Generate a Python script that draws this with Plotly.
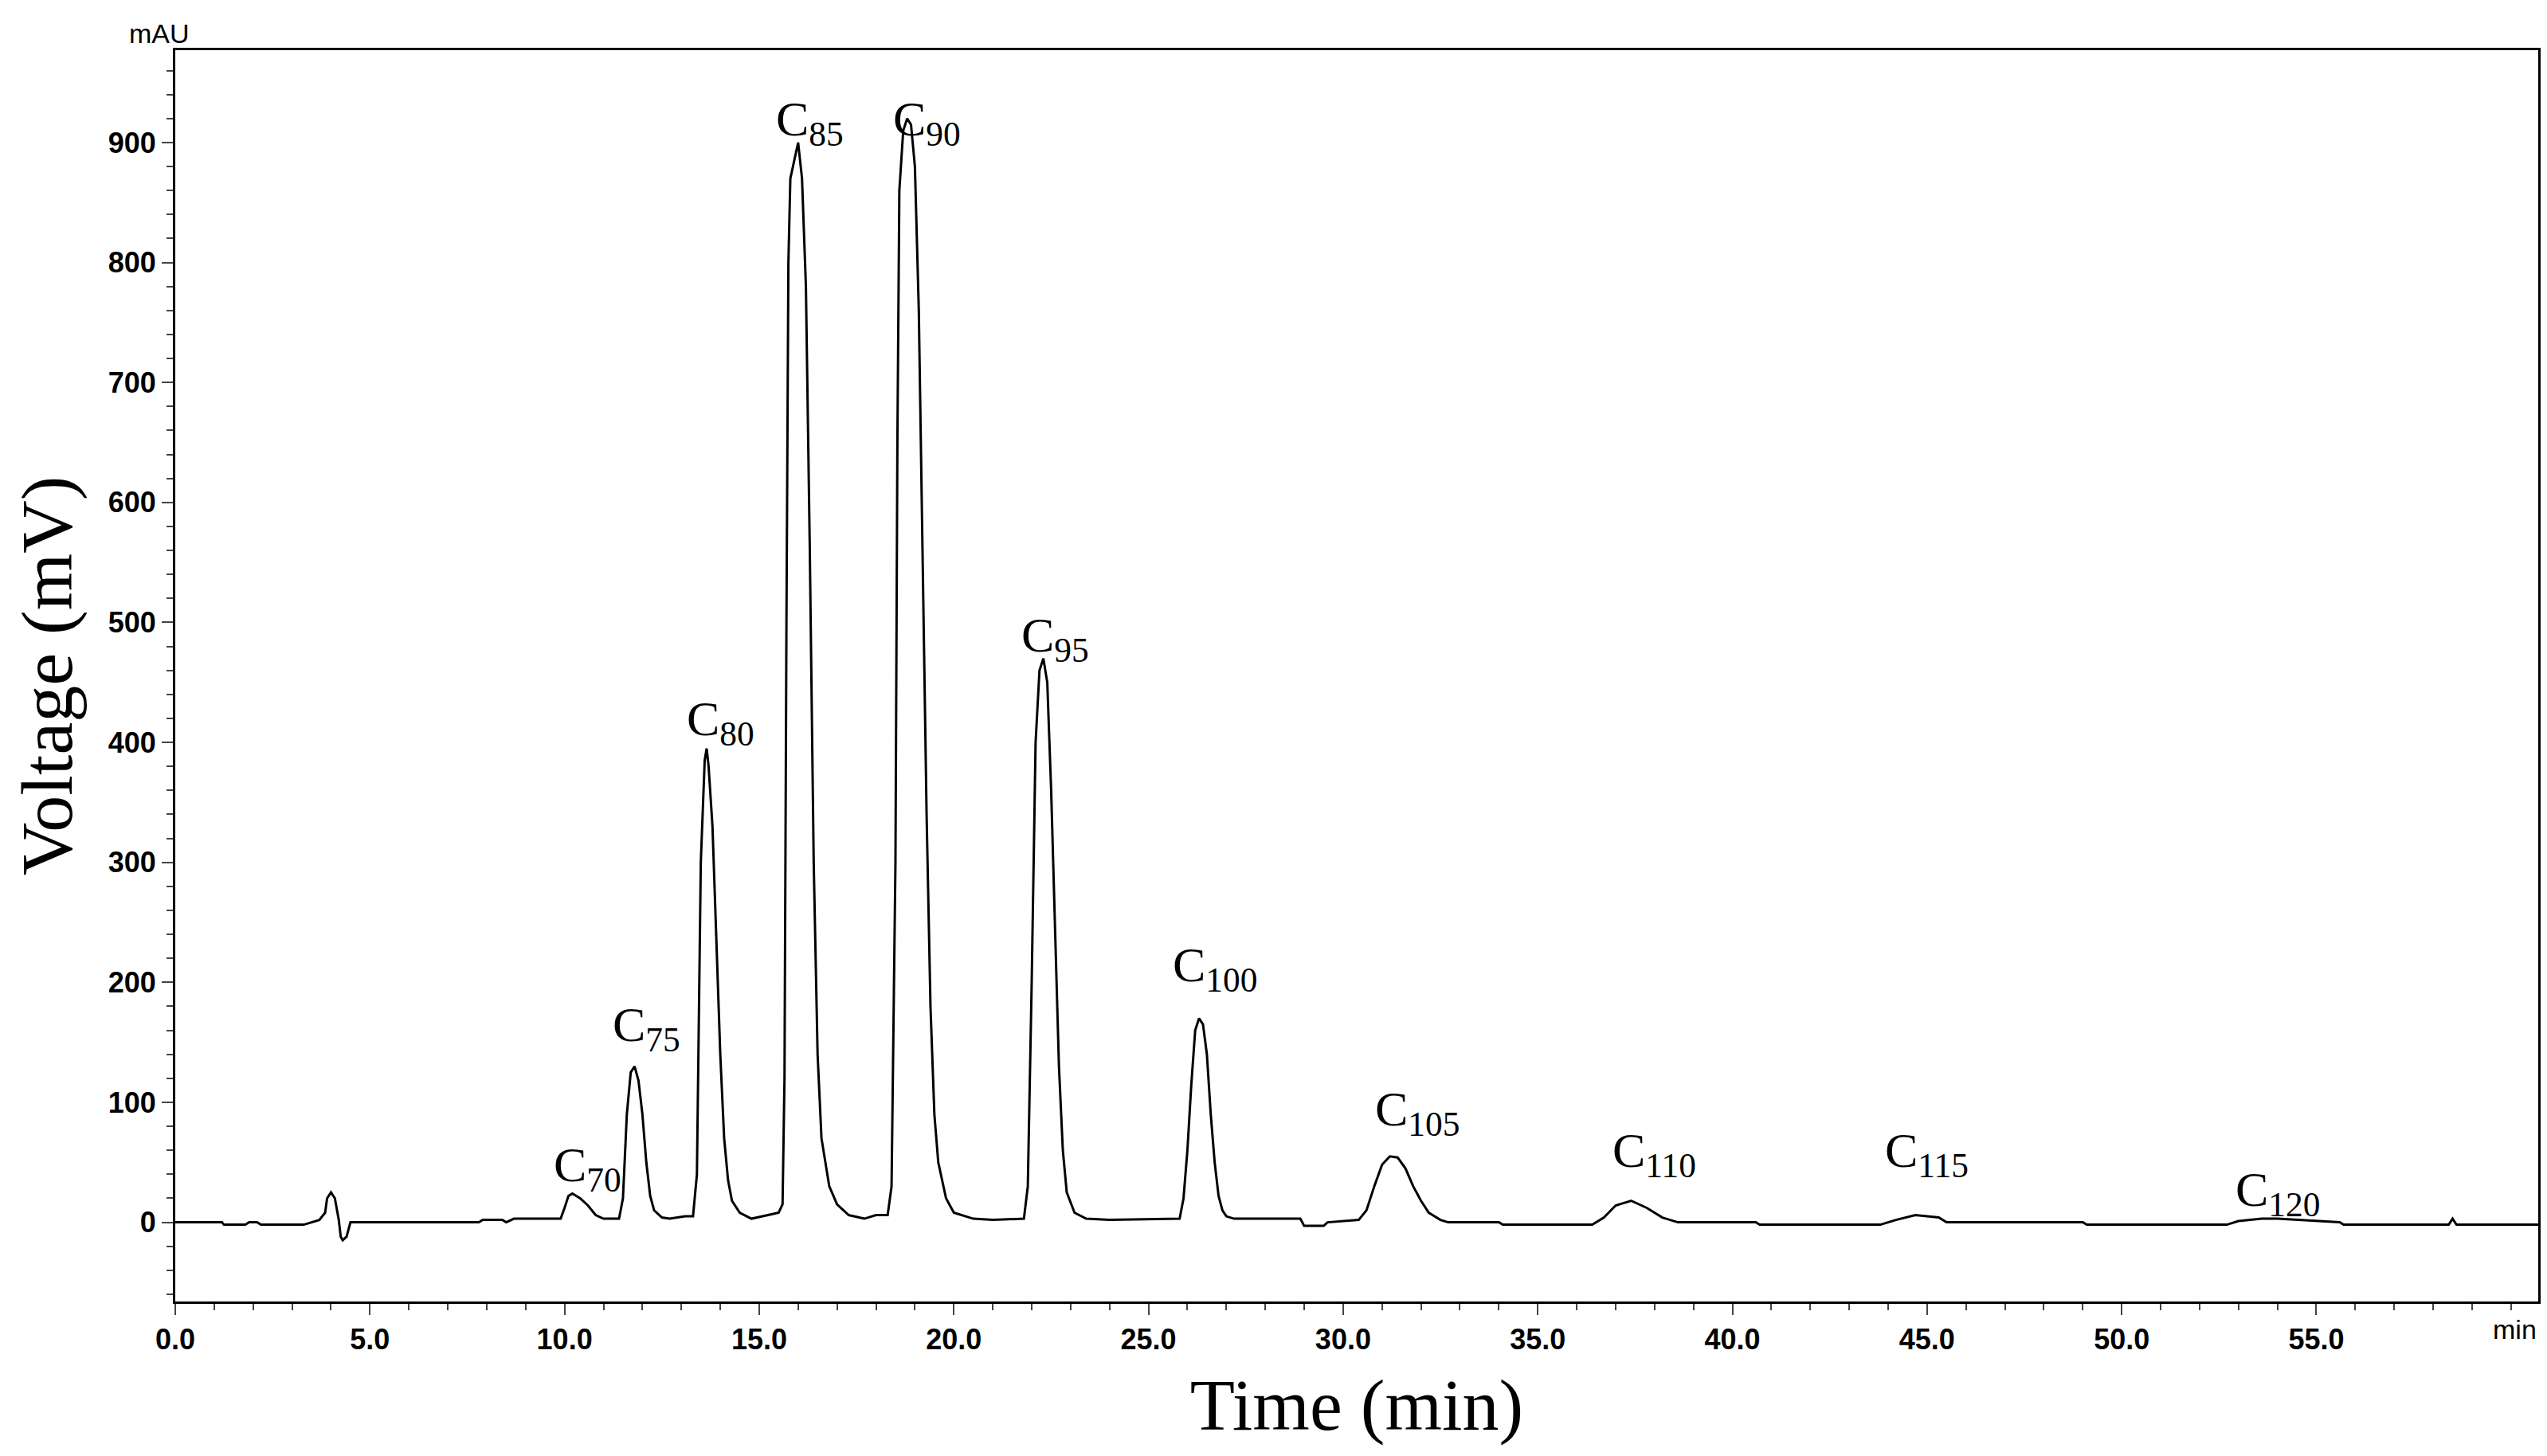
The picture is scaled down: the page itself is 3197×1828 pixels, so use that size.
import plotly.graph_objects as go

# chromatogram trace (time in min, signal in mAU)
time = [0.0, 1.2, 1.25, 1.8, 1.9, 2.1, 2.2, 3.3, 3.7, 3.85, 3.9, 4.0, 4.1, 4.2, 4.25, 4.3, 4.4, 4.5,
        7.8, 7.9, 8.4, 8.5, 8.7, 9.9, 10.0, 10.1, 10.2, 10.4, 10.6, 10.8, 11.0, 11.4, 11.5, 11.6,
        11.7, 11.8, 11.9, 12.0, 12.1, 12.2, 12.3, 12.5, 12.7, 13.1, 13.3, 13.4, 13.5, 13.6, 13.65,
        13.7, 13.8, 13.9, 14.0, 14.1, 14.2, 14.3, 14.5, 14.8, 15.2, 15.5, 15.6, 15.65, 15.7, 15.75,
        15.8, 15.9, 16.0, 16.1, 16.2, 16.3, 16.4, 16.5, 16.6, 16.8, 17.0, 17.3, 17.7, 18.0, 18.3,
        18.4, 18.5, 18.55, 18.6, 18.7, 18.8, 18.9, 19.0, 19.1, 19.2, 19.3, 19.4, 19.5, 19.6, 19.8,
        20.0, 20.5, 21.0, 21.8, 21.9, 22.0, 22.1, 22.2, 22.3, 22.4, 22.5, 22.6, 22.7, 22.8, 22.9,
        23.1, 23.4, 24.0, 25.8, 25.9, 26.0, 26.1, 26.2, 26.3, 26.4, 26.5, 26.6, 26.7, 26.8, 26.9,
        27.0, 27.2, 27.5, 28.9, 29.0, 29.5, 29.6, 30.4, 30.6, 30.8, 31.0, 31.2, 31.4, 31.6, 31.8,
        32.0, 32.2, 32.5, 32.7, 34.0, 34.1, 36.4, 36.7, 37.0, 37.4, 37.8, 38.2, 38.6, 40.6, 40.7,
        43.8, 44.2, 44.7, 45.3, 45.5, 49.0, 49.1, 52.7, 53.0, 53.6, 54.0, 55.6, 55.7, 58.4, 58.5,
        58.6, 58.7, 60.7]
signal = [0, 0, -2, -2, 0, 0, -2, -2, 2, 8, 20, 25, 20, 2, -12, -15, -12, 0,
          0, 2, 2, 0, 3, 3, 12, 22, 24, 20, 14, 6, 3, 3, 20, 90,
          125, 130, 118, 90, 50, 22, 10, 4, 3, 5, 5, 40, 300, 385, 395,
          380, 330, 240, 140, 70, 35, 18, 8, 3, 6, 8, 15, 120, 500, 800,
          870, 885, 900, 870, 780, 560, 300, 140, 70, 30, 15, 6, 3, 6, 6,
          30, 300, 650, 860, 910, 920, 915, 880, 760, 560, 340, 180, 90, 50, 20,
          8, 3, 2, 3, 30, 200, 400, 460, 470, 450, 360, 240, 130, 60, 25,
          8, 3, 2, 3, 20, 60, 115, 160, 170, 165, 140, 90, 50, 22, 10,
          5, 3, 3, 3, -3, -3, 0, 2, 10, 30, 48, 55, 54, 45, 30,
          18, 8, 2, 0, 0, -2, -2, 4, 14, 18, 12, 4, 0, 0, -2,
          -2, 2, 6, 4, 0, 0, -2, -2, 1, 3, 3, 0, -2, -2, 3,
          -2, -2, -2]

peak_labels = ["70", "75", "80", "85", "90", "95", "100", "105", "110", "115", "120"]
label_x = [10.6, 12.1, 14.0, 16.3, 19.3, 22.6, 26.7, 31.9, 38.0, 45.0, 54.0]
label_y = [18, 135, 390, 890, 890, 460, 185, 65, 30, 30, -2]

fig = go.Figure()
fig.add_trace(go.Scatter(x=time, y=signal, mode="lines",
                         line=dict(color="black", width=3), showlegend=False))

for lab, lx, ly in zip(peak_labels, label_x, label_y):
    fig.add_annotation(x=lx, y=ly, text="C<sub>" + lab + "</sub>", showarrow=False,
                       xanchor="center", yanchor="bottom",
                       font=dict(family="Liberation Serif", size=62, color="black"))

fig.add_annotation(x=0, y=1, xref="paper", yref="paper", text="mAU", showarrow=False,
                   xanchor="right", yanchor="bottom", xshift=20,
                   font=dict(family="Liberation Sans", size=34, color="black"))
fig.add_annotation(x=1, y=0, xref="paper", yref="paper", text="min", showarrow=False,
                   xanchor="right", yanchor="top", yshift=-14,
                   font=dict(family="Liberation Sans", size=34, color="black"))

tick_font = dict(family="Liberation Sans", size=36, color="black", weight="bold")
fig.update_xaxes(range=[0, 60.7], tickvals=[0, 5, 10, 15, 20, 25, 30, 35, 40, 45, 50, 55],
                 ticktext=["0.0", "5.0", "10.0", "15.0", "20.0", "25.0", "30.0", "35.0",
                           "40.0", "45.0", "50.0", "55.0"],
                 ticks="outside", ticklen=14, tickwidth=2,
                 minor=dict(dtick=1, ticks="outside", ticklen=8, tickwidth=2),
                 showline=True, linecolor="black", linewidth=3, mirror=True, showgrid=False,
                 zeroline=False, tickfont=tick_font,
                 title=dict(text="Time (min)", standoff=30,
                            font=dict(family="Liberation Serif", size=92, color="black")))
fig.update_yaxes(range=[-66, 977], tickvals=list(range(0, 1000, 100)),
                 ticks="outside", ticklen=14, tickwidth=2,
                 minor=dict(dtick=20, ticks="outside", ticklen=8, tickwidth=2),
                 showline=True, linecolor="black", linewidth=3, mirror=True, showgrid=False,
                 zeroline=False, tickfont=tick_font,
                 title=dict(text="Voltage (mV)", standoff=20,
                            font=dict(family="Liberation Serif", size=92, color="black")))

fig.update_layout(width=3197, height=1828, plot_bgcolor="white", paper_bgcolor="white",
                  margin=dict(l=212, r=19, t=55, b=202))
fig.write_html("out.html")
